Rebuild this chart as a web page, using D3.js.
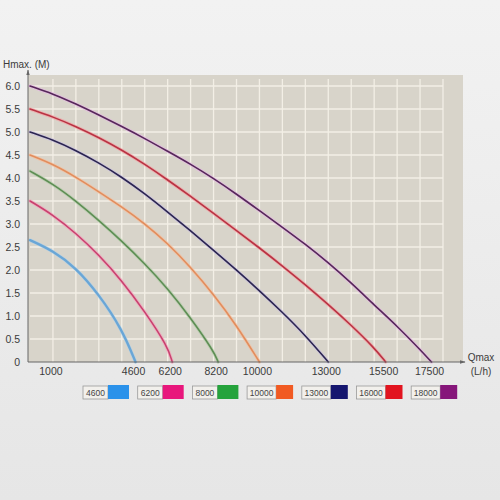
<!DOCTYPE html>
<html>
<head>
<meta charset="utf-8">
<script src="https://cdn.jsdelivr.net/npm/d3@7"></script>
<style>
  html, body { margin: 0; padding: 0; background: #e9e9e9; }
  svg { display: block; font-family: "Liberation Sans", Arial, sans-serif; }
</style>
</head>
<body>
<div id="chart"></div>
<script>
const flowSteps = [0, 1000, 2000, 3000, 4000, 5000, 6000, 7000, 8000, 9000,
  10000, 11000, 12000, 13000, 14000, 15000, 16000, 17000];

const models = ['4600', '6200', '8000', '10000', '13000', '16000', '18000'];
// flow where each curve reaches 0 m
const maxFlow = [4600, 6200, 8200, 10000, 13000, 15500, 17500];

// head (m) at each flow step below maxFlow
const head4600 = [2.65, 2.42, 2.05, 1.47, 0.72];
const head6200 = [3.5, 3.2, 2.8, 2.33, 1.77, 1.1, 0.34];
const head8000 = [4.15, 3.87, 3.5, 3.08, 2.63, 2.14, 1.6, 0.96, 0.24];
const head10000 = [4.5, 4.3, 4.02, 3.7, 3.37, 3.01, 2.58, 2.06, 1.47, 0.8];
const head13000 = [5.0, 4.83, 4.6, 4.33, 4.02, 3.66, 3.26, 2.85, 2.43, 2.0, 1.55, 1.08, 0.58];
const head16000 = [5.5, 5.33, 5.12, 4.88, 4.61, 4.3, 3.96, 3.6, 3.23, 2.86, 2.48, 2.09, 1.68, 1.25, 0.8, 0.31];
const head18000 = [6.0, 5.83, 5.61, 5.37, 5.12, 4.86, 4.58, 4.3, 3.99, 3.65, 3.29, 2.93, 2.56, 2.16, 1.72, 1.24, 0.78, 0.27];
const heads = [head4600, head6200, head8000, head10000, head13000, head16000, head18000];

const xTicks = [1000, 4600, 6200, 8200, 10000, 13000, 15500, 17500];
const yTicks = [0, 0.5, 1, 1.5, 2, 2.5, 3, 3.5, 4, 4.5, 5, 5.5, 6];

// line look: printed curves have a dark core and a soft halo
const coreColors = ['#6aa6d6', '#c9416f', '#5e8e54', '#e28d5c', '#2b2550', '#b93343', '#56285a'];
const haloColors = ['#a9cfea', '#f2a3bb', '#b3ccaa', '#f3c1a1', '#c9bfe0', '#f3a0a2', '#e6b6e3'];
const swatchColors = ['#2b92ea', '#e8177c', '#25a33c', '#f15a22', '#15166f', '#e2141f', '#86167a'];

const W = 500, H = 500;
const svg = d3.select('#chart').append('svg')
  .attr('width', W).attr('height', H);

const defs = svg.append('defs');
const bg = defs.append('linearGradient').attr('id', 'pagebg')
  .attr('x1', 0).attr('y1', 0).attr('x2', 0).attr('y2', 1);
bg.append('stop').attr('offset', '0%').attr('stop-color', '#f2f2f2');
bg.append('stop').attr('offset', '100%').attr('stop-color', '#e6e6e6');
svg.append('rect').attr('width', W).attr('height', H).attr('fill', 'url(#pagebg)');

const x = d3.scaleLinear().domain([0, 18000]).range([30, 443]);
const y = d3.scaleLinear().domain([0, 6]).range([362, 86]);

// plot panel
svg.append('rect')
  .attr('x', 28).attr('y', 75)
  .attr('width', 463 - 28).attr('height', 362 - 75)
  .attr('fill', '#d8d4ca');

// grid
const grid = svg.append('g').attr('stroke', '#f3efe6').attr('stroke-width', 1.3);
grid.selectAll('line.v')
  .data(d3.range(1000, 18001, 1000))
  .join('line')
  .attr('x1', d => x(d)).attr('x2', d => x(d))
  .attr('y1', y(6.15)).attr('y2', y(0));
grid.selectAll('line.h')
  .data(yTicks.slice(1))
  .join('line')
  .attr('x1', x(0)).attr('x2', x(18000))
  .attr('y1', d => y(d)).attr('y2', d => y(d));

// curves
const line = d3.line()
  .x(d => x(d[0]))
  .y(d => y(d[1]))
  .curve(d3.curveBasis);

const series = models.map((m, i) => {
  const pts = heads[i].map((h, j) => [flowSteps[j], h]);
  pts.push([maxFlow[i], 0]);
  return pts;
});

const curves = svg.append('g').attr('fill', 'none').attr('stroke-linecap', 'round');
curves.selectAll('path.halo')
  .data(series)
  .join('path')
  .attr('class', 'halo')
  .attr('d', line)
  .attr('stroke', (d, i) => haloColors[i])
  .attr('stroke-width', 3.4)
  .attr('stroke-opacity', 0.7);
curves.selectAll('path.core')
  .data(series)
  .join('path')
  .attr('class', 'core')
  .attr('d', line)
  .attr('stroke', (d, i) => coreColors[i])
  .attr('stroke-width', (d, i) => i === 0 ? 2.3 : 1.6);

// axes lines with arrows
defs.append('marker').attr('id', 'arrow')
  .attr('viewBox', '0 0 10 10').attr('refX', 9).attr('refY', 5)
  .attr('markerWidth', 6).attr('markerHeight', 6).attr('orient', 'auto')
  .append('path').attr('d', 'M0,2 L10,5 L0,8 Z').attr('fill', '#666');

svg.append('line')
  .attr('x1', 28).attr('y1', y(0)).attr('x2', 465).attr('y2', y(0))
  .attr('stroke', '#666').attr('stroke-width', 1)
  .attr('marker-end', 'url(#arrow)');
svg.append('line')
  .attr('x1', 28).attr('y1', y(0)).attr('x2', 28).attr('y2', 70)
  .attr('stroke', '#666').attr('stroke-width', 1)
  .attr('marker-end', 'url(#arrow)');

// tick labels
const txt = '#3b3b3b';
svg.append('g').selectAll('text')
  .data(yTicks)
  .join('text')
  .attr('x', 20).attr('y', d => y(d))
  .attr('dy', '0.35em')
  .attr('text-anchor', 'end')
  .attr('font-size', 10.5).attr('fill', txt)
  .text(d => d === 0 ? '0' : d.toFixed(1));

svg.append('g').selectAll('text')
  .data(xTicks)
  .join('text')
  .attr('x', d => x(d) - 2).attr('y', 375)
  .attr('text-anchor', 'middle')
  .attr('font-size', 10.5).attr('fill', txt)
  .text(d => d);

svg.append('text')
  .attr('x', 3).attr('y', 68)
  .attr('font-size', 10).attr('fill', txt)
  .text('Hmax. (M)');
svg.append('text')
  .attr('x', 481).attr('y', 361)
  .attr('text-anchor', 'middle')
  .attr('font-size', 10).attr('fill', txt)
  .text('Qmax');
svg.append('text')
  .attr('x', 481).attr('y', 375)
  .attr('text-anchor', 'middle')
  .attr('font-size', 10).attr('fill', txt)
  .text('(L/h)');

// legend
const legend = svg.append('g').selectAll('g')
  .data(models)
  .join('g')
  .attr('transform', (d, i) => `translate(${83 + i * 54.7},386)`);
legend.append('rect')
  .attr('width', d => d.length > 4 ? 29 : 25).attr('height', 13)
  .attr('fill', '#f2f0ec').attr('stroke', '#9a9a9a').attr('stroke-width', 0.8);
legend.append('text')
  .attr('x', d => (d.length > 4 ? 29 : 25) / 2).attr('y', 6.8)
  .attr('dy', '0.35em')
  .attr('text-anchor', 'middle')
  .attr('font-size', 8.5).attr('fill', '#444')
  .text(d => d);
legend.append('rect')
  .attr('x', d => d.length > 4 ? 29 : 25).attr('y', -1)
  .attr('width', (d, i) => i < 3 ? 21 : 17).attr('height', 14)
  .attr('fill', (d, i) => swatchColors[i]);
</script>
</body>
</html>
